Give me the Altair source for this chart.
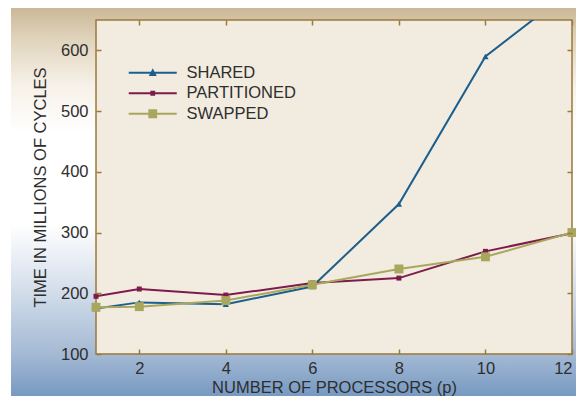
import altair as alt
import pandas as pd

# ---- data ----
processors = [1, 2, 4, 6, 8, 10, 12]
shared = [175, 185, 182, 211, 347, 590, 700]
partitioned = [195, 207, 197, 217, 225, 269, 299]
swapped = [177, 178, 188, 214, 240, 260, 300]
series_names = ["SHARED", "PARTITIONED", "SWAPPED"]
series_colors = ["#1d5f8c", "#7d1b4c", "#a9a75d"]
x_ticks = [2, 4, 6, 8, 10, 12]
y_ticks = [100, 200, 300, 400, 500, 600]

rows = []
for name, vals in zip(series_names, [shared, partitioned, swapped]):
    for p, v in zip(processors, vals):
        rows.append({"p": p, "time": v, "series": name})
df = pd.DataFrame(rows)
one = pd.DataFrame({"k": [0]})

W, H = 476, 334
X_DOM = [1, 12]
Y_DOM = [100, 650]
FONT = "Liberation Sans"
FS = 16.5
TXT = "#2e2e2e"
BROWN = "#9b7a3b"

xs = alt.Scale(domain=X_DOM, nice=False, zero=False)
ys = alt.Scale(domain=Y_DOM, nice=False, zero=False)
cscale = alt.Scale(domain=series_names, range=series_colors)

# background gradient (whole figure)
bg = alt.Chart(one).mark_rect(
    fill=alt.Gradient(
        gradient="linear", x1=0, x2=0, y1=0, y2=1,
        stops=[
            alt.GradientStop(offset=0.0, color="#c8b593"),
            alt.GradientStop(offset=0.08, color="#dfd2ba"),
            alt.GradientStop(offset=0.2, color="#f6f1e8"),
            alt.GradientStop(offset=0.32, color="#ffffff"),
            alt.GradientStop(offset=0.55, color="#ffffff"),
            alt.GradientStop(offset=0.72, color="#d2ddea"),
            alt.GradientStop(offset=0.88, color="#a2b8d3"),
            alt.GradientStop(offset=1.0, color="#6e93be"),
        ],
    )
).encode(x=alt.value(-85), x2=alt.value(W + 20), y=alt.value(-15), y2=alt.value(H + 50))

# plot area
panel = alt.Chart(one).mark_rect(fill="#f2ebdf", stroke=BROWN, strokeWidth=1.5).encode(
    x=alt.value(0), x2=alt.value(W), y=alt.value(0), y2=alt.value(H)
)

x_label_axis = alt.Axis(
    orient="bottom", values=x_ticks, ticks=False, domain=False, grid=False,
    labelFont=FONT, labelFontSize=FS, labelColor=TXT, labelPadding=6,
    title="NUMBER OF PROCESSORS (p)", titleFont=FONT, titleFontSize=FS,
    titleFontWeight="normal", titleColor=TXT, titlePadding=2.5, zindex=1,
)
y_label_axis = alt.Axis(
    orient="left", values=y_ticks, ticks=False, domain=False, grid=False,
    labelFont=FONT, labelFontSize=FS, labelColor=TXT, labelPadding=8,
    title="TIME IN MILLIONS OF CYCLES", titleFont=FONT, titleFontSize=FS,
    titleFontWeight="normal", titleColor=TXT, titlePadding=12, zindex=1,
)

lines = alt.Chart(df).mark_line(strokeWidth=2, clip=True).encode(
    x=alt.X("p:Q", scale=xs, axis=x_label_axis),
    y=alt.Y("time:Q", scale=ys, axis=y_label_axis),
    color=alt.Color("series:N", scale=cscale, legend=None),
)


def pts(name, shape, size):
    return alt.Chart(df).transform_filter(
        (alt.datum.series == name) & (alt.datum.time <= Y_DOM[1])
    ).mark_point(filled=True, shape=shape, size=size, opacity=1).encode(
        x=alt.X("p:Q", scale=xs, axis=None),
        y=alt.Y("time:Q", scale=ys, axis=None),
        color=alt.Color("series:N", scale=cscale, legend=None),
    )


p_shared = pts("SHARED", "triangle-up", 40)
p_part = pts("PARTITIONED", "square", 25)
p_swap = pts("SWAPPED", "square", 80)


def tick_axis(orient, offset, values):
    return alt.Axis(
        orient=orient, offset=offset, values=values, labels=False, domain=False,
        grid=False, ticks=True, tickSize=5, tickColor=BROWN, tickWidth=1.5,
        title=None, zindex=1,
    )


ticks1 = alt.Chart(df).transform_filter("false").mark_point().encode(
    x=alt.X("p:Q", scale=xs, axis=tick_axis("top", -H, x_ticks)),
    y=alt.Y("time:Q", scale=ys, axis=tick_axis("right", -W, y_ticks)),
)
ticks2 = alt.Chart(df).transform_filter("false").mark_point().encode(
    x=alt.X("p:Q", scale=xs, axis=tick_axis("bottom", -H, x_ticks)),
    y=alt.Y("time:Q", scale=ys, axis=tick_axis("left", -W, y_ticks)),
)

# legend carrier (no drawn marks; legend symbols = line + marker)
LINE = "M-3,-0.125H3V0.125H-3Z"
legend_shapes = [
    LINE + " M0,-0.55L0.5,0.4H-0.5Z",
    LINE + " M-0.3,-0.3H0.3V0.3H-0.3Z",
    LINE + " M-0.55,-0.55H0.55V0.55H-0.55Z",
]


def legend_def():
    return alt.Legend(
        orient="none", legendX=48.5, legendY=44.5, title=None, padding=0,
        symbolSize=256, symbolStrokeWidth=0, labelOffset=25.5, rowPadding=3.5,
        labelFont=FONT, labelFontSize=FS, labelColor=TXT, zindex=1,
    )


leg = alt.Chart(df).transform_filter("false").mark_point(filled=True, size=256, opacity=1).encode(
    x=alt.X("p:Q", scale=xs, axis=None),
    y=alt.Y("time:Q", scale=ys, axis=None),
    color=alt.Color("series:N", scale=cscale, legend=legend_def()),
    shape=alt.Shape(
        "series:N", scale=alt.Scale(domain=series_names, range=legend_shapes),
        legend=legend_def(),
    ),
)

chart = alt.layer(
    leg, bg, panel, lines, p_shared, p_part, p_swap, ticks1, ticks2
).resolve_axis(x="independent", y="independent").properties(
    width=W, height=H,
    autosize=alt.AutoSizeParams(type="none"),
    padding={"left": 88, "top": 12, "right": 4, "bottom": 42},
    background="white",
).configure_view(stroke=None)

chart.save("out.html", embed_options={"renderer": "svg", "actions": False})
